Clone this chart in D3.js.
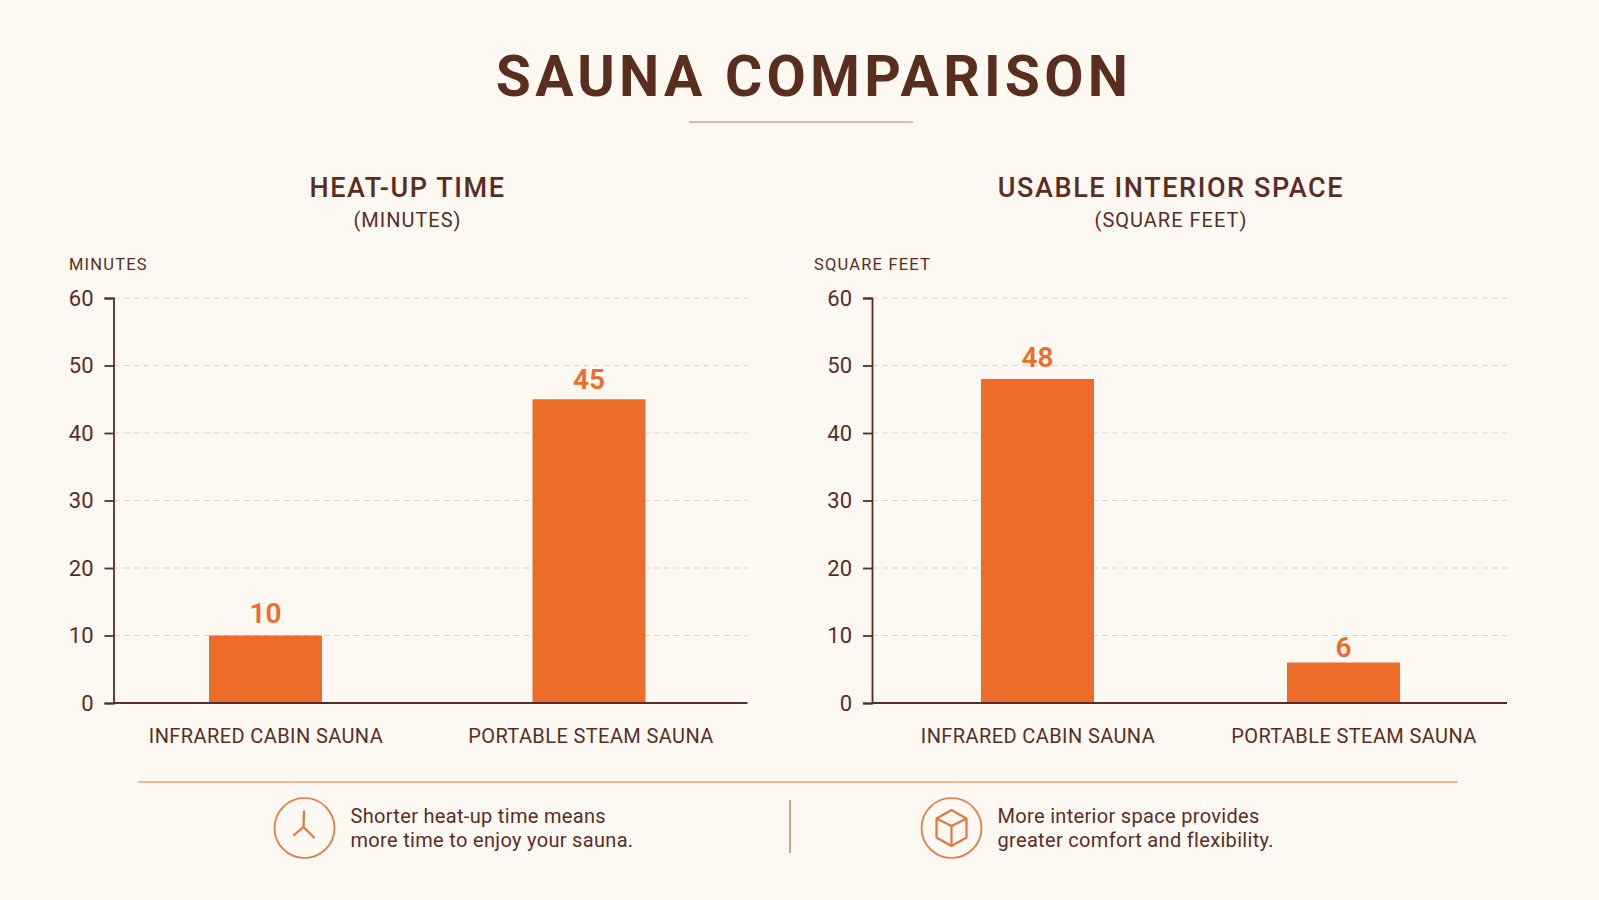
<!DOCTYPE html>
<html>
<head>
<meta charset="utf-8">
<script src="https://cdn.jsdelivr.net/npm/d3@7"></script>
<style>
  html, body { margin: 0; padding: 0; background: #fdf8f2; }
  svg { display: block; }
  text { font-family: "Roboto", sans-serif; fill: #5a2e1f; }
</style>
</head>
<body>
<svg id="chart" width="1599" height="900"></svg>
<script>
// Chart values
const categories = ["INFRARED CABIN SAUNA", "PORTABLE STEAM SAUNA"];
const heatUpMinutes = [10, 45];
const interiorSquareFeet = [48, 6];
const yTicks = [0, 10, 20, 30, 40, 50, 60];

const INK = "#5a2e1f", ORANGE = "#ee6c29", RULE = "#e8a274", GRID = "#ddd5c8";
const svg = d3.select("#chart");

// Page title with its short rule
svg.append("text").attr("x", 814).attr("y", 96).attr("text-anchor", "middle")
  .attr("font-size", 57).attr("font-weight", 700).attr("letter-spacing", 4.25).text("SAUNA COMPARISON");
svg.append("line").attr("x1", 689).attr("x2", 913).attr("y1", 122).attr("y2", 122)
  .attr("stroke", RULE).attr("stroke-width", 1.5);

function panel({title, subtitle, titleX, unit, unitX, axisX, gridEnd, range, values, labelDx, valueLift}) {
  const g = svg.append("g");
  g.append("text").attr("x", titleX).attr("y", 197).attr("text-anchor", "middle")
    .attr("font-size", 27).attr("font-weight", 500).attr("letter-spacing", 1.6).text(title);
  g.append("text").attr("x", titleX).attr("y", 227).attr("text-anchor", "middle")
    .attr("font-size", 20).attr("letter-spacing", 1).text(subtitle);
  g.append("text").attr("x", unitX).attr("y", 270)
    .attr("font-size", 16.5).attr("letter-spacing", 1.2).text(unit);

  const y = d3.scaleLinear().domain([0, 60]).range([703, 298]);
  const x = d3.scalePoint().domain(categories).range(range).padding(0.5);
  const barWidth = 113;

  // Dashed horizontal guides
  g.append("g").selectAll("line").data(yTicks.filter(d => d > 0)).join("line")
    .attr("x1", axisX).attr("x2", gridEnd)
    .attr("y1", d => y(d)).attr("y2", d => y(d))
    .attr("stroke", GRID).attr("stroke-width", 1.2).attr("stroke-dasharray", "6 4");

  // Bars and their value labels
  const bars = g.append("g");
  bars.selectAll("rect").data(values).join("rect")
    .attr("x", (d, i) => x(categories[i]) - barWidth / 2)
    .attr("width", barWidth)
    .attr("y", d => y(d))
    .attr("height", d => y(0) - y(d))
    .attr("fill", ORANGE);
  bars.selectAll("text").data(values).join("text")
    .attr("x", (d, i) => x(categories[i]))
    .attr("y", (d, i) => y(d) - valueLift[i])
    .attr("text-anchor", "middle")
    .attr("font-size", 28).attr("font-weight", 600)
    .style("fill", ORANGE).text(d => d);

  // Value axis
  const yAxis = g.append("g").attr("transform", `translate(${axisX},0)`)
    .call(d3.axisLeft(y).tickValues(yTicks).tickSize(9).tickPadding(11));
  yAxis.selectAll("path, line").attr("stroke", INK).attr("stroke-width", 1.8);
  yAxis.selectAll("text").attr("font-size", 22).attr("font-family", "Roboto").style("fill", INK);

  // Category axis: baseline only, no tick marks
  const xAxis = g.append("g").attr("transform", `translate(0,${y(0)})`)
    .call(d3.axisBottom(x).tickSize(0).tickPadding(25.5));
  xAxis.select("path").remove();
  xAxis.selectAll("text").attr("font-size", 20).attr("font-family", "Roboto")
    .attr("letter-spacing", 0.4).style("fill", INK)
    .attr("dx", (d, i) => labelDx[i]);
  g.append("line").attr("x1", axisX).attr("x2", gridEnd).attr("y1", y(0)).attr("y2", y(0))
    .attr("stroke", INK).attr("stroke-width", 1.8);
}

panel({
  title: "HEAT-UP TIME", subtitle: "(MINUTES)", titleX: 407.5,
  unit: "MINUTES", unitX: 69, axisX: 113.5, gridEnd: 747.5,
  range: [103.75, 750.75], values: heatUpMinutes, labelDx: [0, 1.5], valueLift: [12.5, 10]
});
panel({
  title: "USABLE INTERIOR SPACE", subtitle: "(SQUARE FEET)", titleX: 1171,
  unit: "SQUARE FEET", unitX: 814, axisX: 872, gridEnd: 1507,
  range: [884.5, 1496.5], values: interiorSquareFeet, labelDx: [0, 10], valueLift: [12, 6]
});

// Footer: divider rules
svg.append("line").attr("x1", 138).attr("x2", 1458).attr("y1", 782).attr("y2", 782)
  .attr("stroke", RULE).attr("stroke-width", 1.5);
svg.append("line").attr("x1", 790).attr("x2", 790).attr("y1", 800).attr("y2", 853)
  .attr("stroke", "#b98a6a").attr("stroke-width", 1.5);

function note(cx, lines, drawIcon) {
  const ic = svg.append("g").attr("transform", `translate(${cx},828)`)
    .attr("fill", "none").attr("stroke", "#e2783f").attr("stroke-width", 1.7)
    .attr("stroke-linejoin", "round").attr("stroke-linecap", "round");
  ic.append("circle").attr("r", 30);
  drawIcon(ic);
  lines.forEach((line, i) => svg.append("text").attr("x", cx + 46).attr("y", 823 + i * 24)
    .attr("font-size", 20).attr("letter-spacing", 0.32).text(line));
}

note(304.5, ["Shorter heat-up time means", "more time to enjoy your sauna."], ic => {
  ic.append("path").attr("d", "M-0.5,-16.5 L-1,-1 M-1,-1 L-10.5,7 M-1,-1 L9.5,9.5").attr("stroke-width", 2.2);
});
note(951.5, ["More interior space provides", "greater comfort and flexibility."], ic => {
  ic.append("path").attr("d", "M0,-18 L15,-9.5 L15,9.5 L0,18 L-15,9.5 L-15,-9.5 Z M-15,-9.5 L0,-2 L15,-9.5 M0,-2 L0,18").attr("stroke-width", 2.2);
});
</script>
</body>
</html>
